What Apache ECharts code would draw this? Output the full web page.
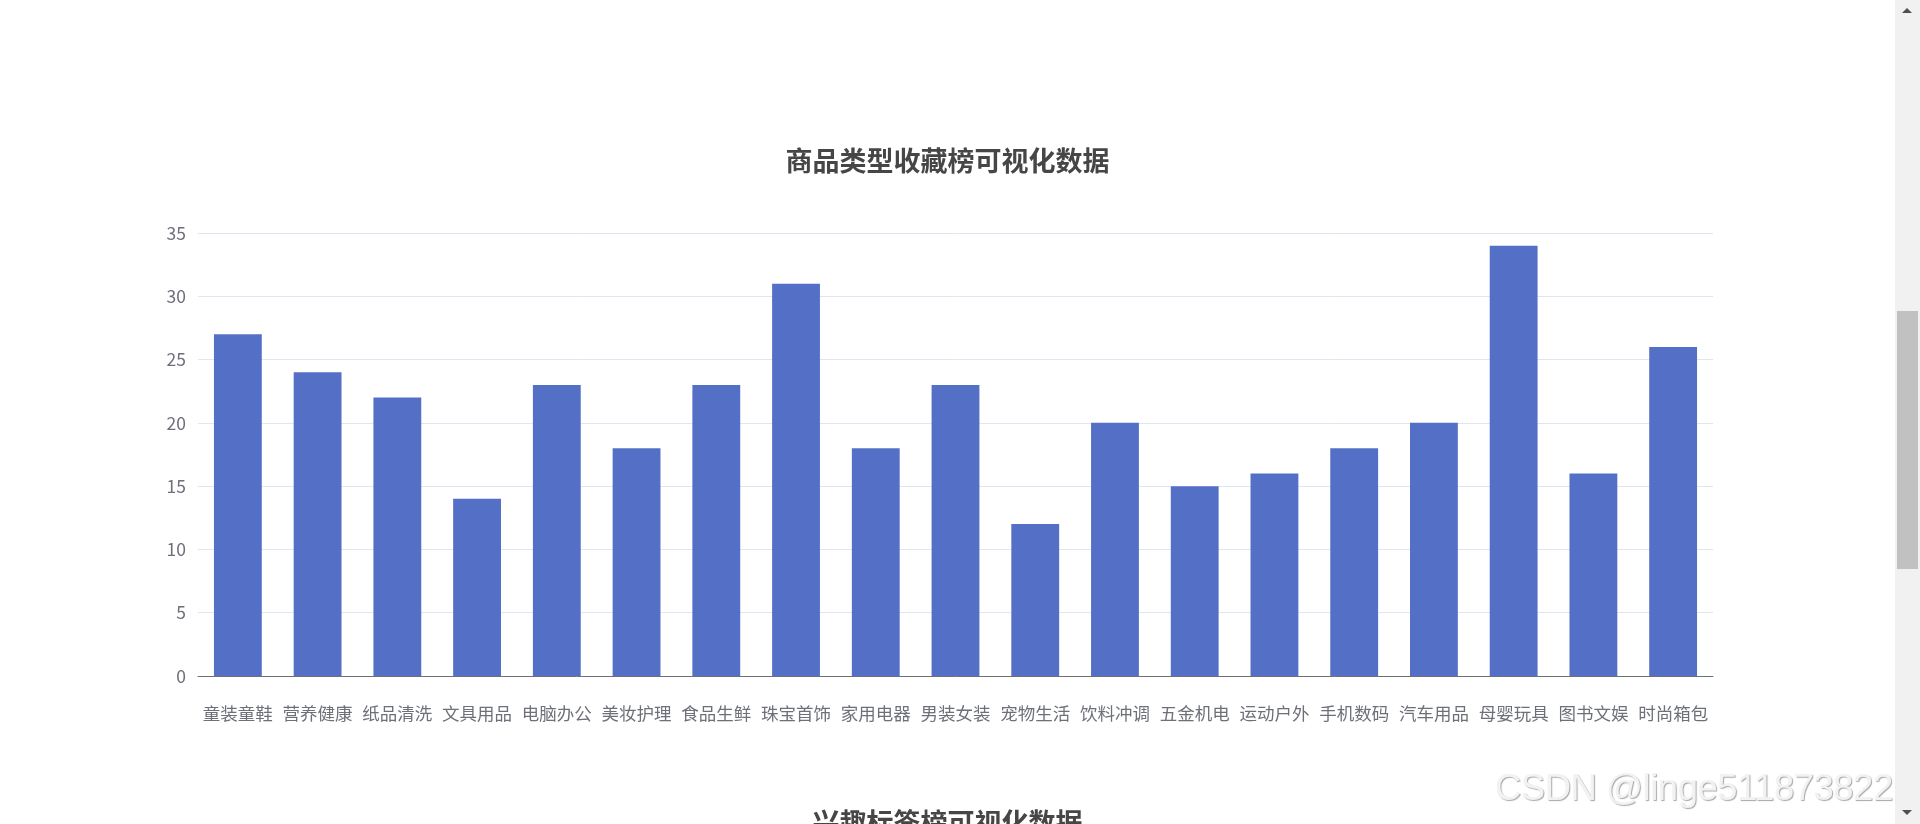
<!DOCTYPE html>
<html>
<head>
<meta charset="utf-8">
<script src="https://cdn.jsdelivr.net/npm/echarts@6/dist/echarts.min.js"></script>
<style>
  html, body { margin:0; padding:0; background:#fff; overflow:hidden; }
  #chart { position:absolute; left:0; top:0; width:1895px; height:824px; }
  #sb { position:absolute; left:1895px; top:0; width:25px; height:824px; background:#f1f1f1; }
  #thumb { position:absolute; left:2px; top:311px; width:21px; height:258px; background:#c1c1c1; }
  .arr { position:absolute; left:7px; width:0; height:0; border-left:5px solid transparent; border-right:5px solid transparent; }
  #up { top:8px; border-bottom:5px solid #505050; }
  #down { top:810px; border-top:5px solid #505050; }
  #wm { position:absolute; left:1495px; top:767px; font-family:"Liberation Sans", Arial, sans-serif; font-size:36.5px; color:#f2f2f2;
        text-shadow: 1px 1px 1px rgba(0,0,0,0.35), -1px -1px 0 rgba(255,255,255,0.8); white-space:nowrap; letter-spacing:-0.5px; }
</style>
</head>
<body>
<div id="chart"></div>
<div id="sb"><div class="arr" id="up"></div><div id="thumb"></div><div class="arr" id="down"></div></div>
<div id="wm">CSDN @linge511873822</div>
<script>
const titleText = '商品类型收藏榜可视化数据';
const nextTitleText = '兴趣标签榜可视化数据';
const categories = ['童装童鞋','营养健康','纸品清洗','文具用品','电脑办公','美妆护理','食品生鲜','珠宝首饰','家用电器','男装女装','宠物生活','饮料冲调','五金机电','运动户外','手机数码','汽车用品','母婴玩具','图书文娱','时尚箱包'];
const values = [27,24,22,14,23,18,23,31,18,23,12,20,15,16,18,20,34,16,26];

const chart = echarts.init(document.getElementById('chart'));
const font = '"Noto Sans CJK SC", "Microsoft YaHei", sans-serif';
chart.setOption({
  animation: false,
  title: [
    { text: titleText, left: 'center', top: 142,
      textStyle: { fontSize: 27, fontWeight: 'bold', color: '#464646', fontFamily: font } },
    { text: nextTitleText, left: 'center', top: 804,
      textStyle: { fontSize: 27, fontWeight: 'bold', color: '#464646', fontFamily: font } }
  ],
  grid: { left: 198, right: 182, top: 233, bottom: 148, containLabel: false },
  xAxis: {
    type: 'category',
    data: categories,
    axisLine: { lineStyle: { color: '#6E7079' } },
    axisTick: { length: 7, lineStyle: { color: '#6E7079' } },
    axisLabel: { interval: 0, margin: 29, fontSize: 17.5, color: '#6E7079', fontFamily: font }
  },
  yAxis: {
    type: 'value',
    min: 0, max: 35, interval: 5,
    axisLabel: { margin: 12, fontSize: 17.5, color: '#6E7079', fontFamily: font },
    splitLine: { lineStyle: { color: '#E0E6F1' } }
  },
  series: [{
    type: 'bar',
    data: values,
    barWidth: '60%',
    itemStyle: { color: '#5470c6' }
  }]
});
</script>
</body>
</html>
